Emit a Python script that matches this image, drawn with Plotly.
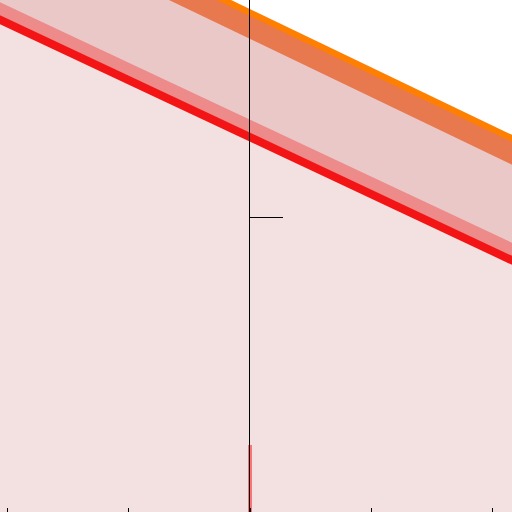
import plotly.graph_objects as go

# ---- data ----
x_vals = [-3, -2, -1, 0, 1, 2, 3]

# lower (red) series: solid core and lighter upper band
red_core = [1.850, 1.657, 1.464, 1.270, 1.077, 0.884, 0.691]
red_band = [1.884, 1.691, 1.498, 1.304, 1.111, 0.918, 0.725]

# upper (orange) series: solid core and darker lower band
orange_core = [2.285, 2.088, 1.891, 1.693, 1.496, 1.299, 1.101]
orange_band = [2.238, 2.041, 1.844, 1.646, 1.449, 1.252, 1.054]

# small spike at x = 0
spike_x = [0]
spike_h = [0.227]

x_ticks = [-2, -1, 0, 1, 2]
y_ticks = [1]

fig = go.Figure()

# fills
fig.add_trace(go.Scatter(x=x_vals, y=red_core, mode="lines", line=dict(width=0),
                         fill="tozeroy", fillcolor="#f3e1e1", hoverinfo="skip"))
fig.add_trace(go.Scatter(x=x_vals, y=orange_core, mode="lines", line=dict(width=0),
                         fill="tonexty", fillcolor="#ebc8c8", hoverinfo="skip"))

# lines
fig.add_trace(go.Scatter(x=x_vals, y=red_band, mode="lines",
                         line=dict(color="#ed8a8a", width=13.6)))
fig.add_trace(go.Scatter(x=x_vals, y=red_core, mode="lines",
                         line=dict(color="#f31515", width=8.1)))
fig.add_trace(go.Scatter(x=x_vals, y=orange_band, mode="lines",
                         line=dict(color="#e8784e", width=22.5)))
fig.add_trace(go.Scatter(x=x_vals, y=orange_core, mode="lines",
                         line=dict(color="#ff7f00", width=6.3)))

# spike
sx, sy = [], []
for xv, h in zip(spike_x, spike_h):
    sx += [xv, xv, None]
    sy += [0, h, None]
fig.add_trace(go.Scatter(x=sx, y=sy, mode="lines",
                         line=dict(color="rgba(245,60,60,0.65)", width=4)))

fig.update_layout(
    width=512, height=512,
    margin=dict(l=0, r=0, t=0, b=0),
    paper_bgcolor="white", plot_bgcolor="white",
    showlegend=False,
    xaxis=dict(range=[-2.062, 2.161], showgrid=False, zeroline=False, showline=False,
               ticks="inside", ticklen=4, tickwidth=1, tickcolor="black",
               tickvals=x_ticks, showticklabels=False),
    yaxis=dict(range=[0, 1.7356], anchor="free", position=0.4873,
               showgrid=False, zeroline=False, showline=True, linecolor="black", linewidth=1,
               ticks="inside", ticklen=33, tickwidth=1, tickcolor="black",
               tickvals=y_ticks, showticklabels=False),
)

fig.write_html("out.html", config={"displayModeBar": False},
               post_script="document.body.style.margin='0';document.body.style.overflow='hidden';")
